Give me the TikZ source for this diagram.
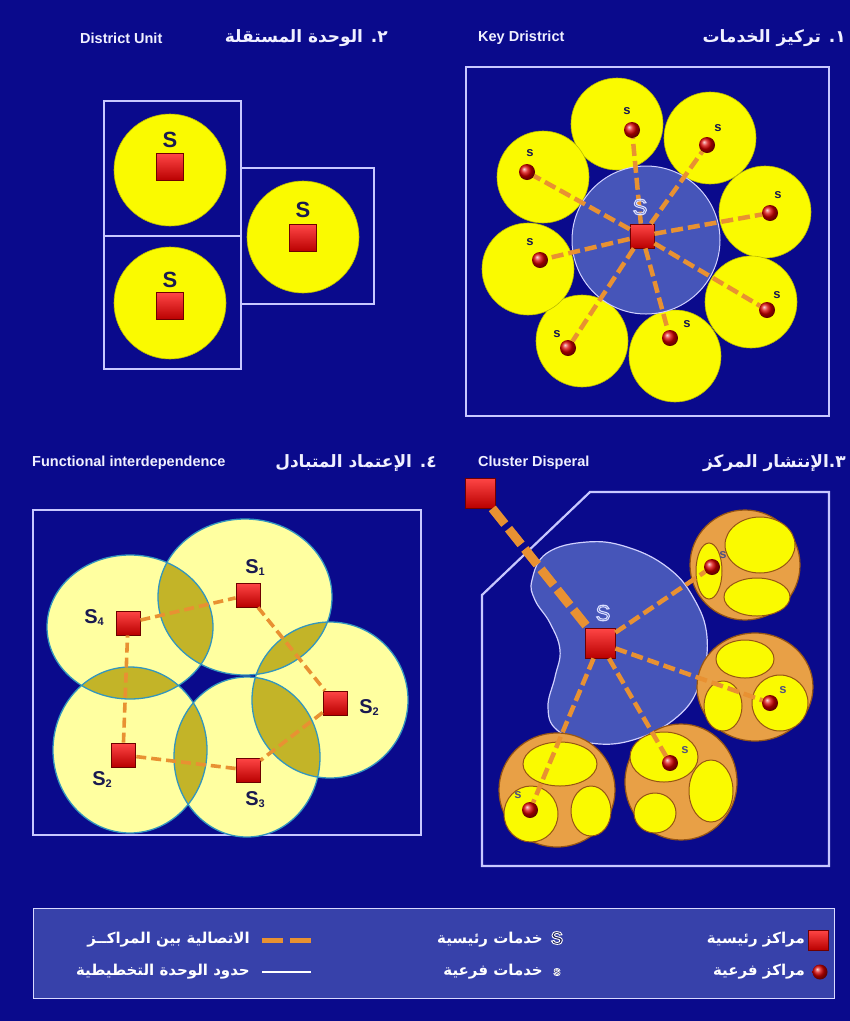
\documentclass[tikz,border=0pt]{standalone}
\usepackage{fontspec}
\setmainfont{Liberation Sans}
\newfontfamily\arabicfont[Script=Arabic]{DejaVu Sans}
\TeXXeTstate=1
\usetikzlibrary{calc}
\definecolor{bg}{RGB}{10,10,140}
\definecolor{framec}{RGB}{200,200,255}
\definecolor{yel}{RGB}{250,250,0}
\definecolor{pale}{RGB}{255,255,160}
\definecolor{olv}{RGB}{195,180,40}
\definecolor{tealc}{RGB}{50,150,190}
\definecolor{blob}{RGB}{70,85,185}
\definecolor{orng}{RGB}{232,145,50}
\definecolor{clus}{RGB}{232,160,70}
\definecolor{brn}{RGB}{150,85,20}
\definecolor{navy}{RGB}{25,25,80}
\definecolor{legbg}{RGB}{55,65,170}
\definecolor{ttlc}{RGB}{240,240,255}
\definecolor{rtop}{RGB}{255,70,70}
\definecolor{rbot}{RGB}{185,0,0}
\definecolor{rdark}{RGB}{110,0,0}
\tikzset{
  panelframe/.style={draw=framec, line width=2.2pt},
  ycirc/.style={fill=yel, draw=yel!75!black, line width=0.6pt},
  rsq/.style={rectangle, minimum size=#1, inner sep=0pt, draw=rdark, line width=0.8pt, top color=rtop, bottom color=rbot},
  rsq/.default=26pt,
  sph/.style={circle, minimum size=16pt, inner sep=0pt, ball color=red!85!black},
  link/.style={draw=orng, line width=4.5pt, dash pattern=on 12pt off 5pt},
  thinlink/.style={draw=orng, line width=3.6pt, dash pattern=on 10pt off 5pt},
  biglink/.style={draw=orng, line width=9pt, dash pattern=on 20pt off 6pt},
  titletext/.style={text=ttlc, font=\bfseries\fontsize{14.5}{16}\selectfont, inner sep=0pt},
  artitle/.style={text=ttlc, font=\arabicfont\bfseries\fontsize{17}{20}\selectfont, inner sep=0pt},
  legtext/.style={text=white, font=\arabicfont\bfseries\fontsize{15}{18}\selectfont, inner sep=0pt},
  bigS/.style={text=navy, font=\bfseries\fontsize{22}{22}\selectfont, inner sep=0pt},
  subS/.style={text=navy, font=\bfseries\fontsize{20}{20}\selectfont, inner sep=0pt},
  smalls/.style={text=navy, font=\bfseries\fontsize{13}{13}\selectfont, inner sep=0pt},
  outS/.style={inner sep=0pt},
  blobc/.style={fill=pale},
  clusc/.style={fill=clus, draw=brn, line width=1.2pt},
  cellc/.style={fill=yel, draw=brn, line width=1pt},
}
% outlined text: fill in current colour, stroke with given rgb
\newcommand\olt[3]{\special{pdf:literal direct 2 Tr #3 w #2 RG}#1\special{pdf:literal direct 0 Tr}}
\newcommand\sub[1]{\raisebox{-2pt}{\fontsize{11}{11}\selectfont #1}}
\begin{document}
\begin{tikzpicture}[x=1pt,y=-1pt]
\useasboundingbox (0,0) rectangle (850,1021);
\fill[bg] (0,0) rectangle (850,1021);

% ---------- titles ----------
\node[titletext, anchor=west] (t2en) at (80,38) {District Unit};
\node[artitle, anchor=east] (t2ar) at (388,38) {\beginR ٢. الوحدة المستقلة\endR};
\node[titletext, anchor=west] (t1en) at (478,38) {Key Dristrict};
\node[artitle, anchor=east] (t1ar) at (846,38) {\beginR ١. تركيز الخدمات\endR};
\node[titletext, anchor=west] (t4en) at (32,463) {Functional interdependence};
\node[artitle, anchor=east] (t4ar) at (437,463) {\beginR ٤. الإعتماد المتبادل\endR};
\node[titletext, anchor=west] (t3en) at (478,463) {Cluster Disperal};
\node[artitle, anchor=east] (t3ar) at (846,463) {\beginR ٣.الإنتشار المركز\endR};

% ---------- panel 1: key district ----------
\draw[panelframe] (466,67) rectangle (829,416);
\foreach \x/\y in {617/124, 710/138, 765/212, 751/302, 675/356, 582/341, 528/269, 543/177}
  \fill[ycirc] (\x,\y) circle (46);
\filldraw[fill=blob, draw=framec!85, line width=1pt] (646,240) circle (74);
\node[rsq=24pt] (k0) at (642,236) {};
\node[sph] (k1) at (632,130) {};
\node[sph] (k2) at (707,145) {};
\node[sph] (k3) at (770,213) {};
\node[sph] (k4) at (767,310) {};
\node[sph] (k5) at (670,338) {};
\node[sph] (k6) at (568,348) {};
\node[sph] (k7) at (540,260) {};
\node[sph] (k8) at (527,172) {};
\foreach \i in {1,...,8} \draw[link] (k0) -- (k\i);
\node[smalls] (ks1) at (627,111) {s};
\node[smalls] (ks2) at (718,128) {s};
\node[smalls] (ks3) at (778,195) {s};
\node[smalls] (ks4) at (777,295) {s};
\node[smalls] (ks5) at (687,324) {s};
\node[smalls] (ks6) at (557,334) {s};
\node[smalls] (ks7) at (530,242) {s};
\node[smalls] (ks8) at (530,153) {s};
\node[outS, text=blob, font=\fontsize{22}{22}\selectfont] (kS) at (640,207) {\olt{S}{0.85 0.87 1}{1.1}};

% ---------- panel 2: district unit ----------
\draw[panelframe] (104,101) rectangle (241,236);
\draw[panelframe] (104,236) rectangle (241,369);
\draw[panelframe] (241,168) rectangle (374,304);
\fill[ycirc] (170,170) circle (56);
\fill[ycirc] (170,303) circle (56);
\fill[ycirc] (303,237) circle (56);
\node[rsq=27pt] (d1) at (170,167) {};
\node[rsq=27pt] (d2) at (170,306) {};
\node[rsq=27pt] (d3) at (303,238) {};
\node[bigS] (ds1) at (170,140) {S};
\node[bigS] (ds2) at (170,280) {S};
\node[bigS] (ds3) at (303,210) {S};

% ---------- panel 4: functional interdependence ----------
\draw[panelframe] (33,510) rectangle (421,835);
\def\bA{(245,597) ellipse [x radius=87, y radius=78]}
\def\bB{(130,627) ellipse [x radius=83, y radius=72]}
\def\bC{(330,700) ellipse [x radius=78, y radius=78]}
\def\bD{(130,750) ellipse [x radius=77, y radius=83]}
\def\bE{(247,757) ellipse [x radius=73, y radius=80]}
\fill[blobc] \bA; \fill[blobc] \bB; \fill[blobc] \bC; \fill[blobc] \bD; \fill[blobc] \bE;
\begin{scope}\clip \bA; \fill[olv] \bB; \end{scope}
\begin{scope}\clip \bA; \fill[olv] \bC; \end{scope}
\begin{scope}\clip \bB; \fill[olv] \bD; \end{scope}
\begin{scope}\clip \bD; \fill[olv] \bE; \end{scope}
\begin{scope}\clip \bE; \fill[olv] \bC; \end{scope}
\draw[tealc, line width=1.3pt] \bA; \draw[tealc, line width=1.3pt] \bB; \draw[tealc, line width=1.3pt] \bC;
\draw[tealc, line width=1.3pt] \bD; \draw[tealc, line width=1.3pt] \bE;
\node[rsq=24pt] (f1) at (248,595) {};
\node[rsq=24pt] (f4) at (128,623) {};
\node[rsq=24pt] (f2) at (335,703) {};
\node[rsq=24pt] (f5) at (123,755) {};
\node[rsq=24pt] (f3) at (248,770) {};
\draw[thinlink] (f4) -- (f1);
\draw[thinlink] (f1) -- (f2);
\draw[thinlink] (f2) -- (f3);
\draw[thinlink] (f3) -- (f5);
\draw[thinlink] (f5) -- (f4);
\node[subS] (fs1) at (255,568) {S\sub{1}};
\node[subS] (fs4) at (94,618) {S\sub{4}};
\node[subS] (fs2) at (369,708) {S\sub{2}};
\node[subS] (fs5) at (102,780) {S\sub{2}};
\node[subS] (fs3) at (255,800) {S\sub{3}};

% ---------- panel 3: cluster dispersal ----------
\draw[panelframe] (590,492) -- (829,492) -- (829,866) -- (482,866) -- (482,595) -- cycle;
\filldraw[fill=blob, draw=framec!85, line width=1.2pt] plot[smooth cycle, tension=0.7] coordinates {
  (532,580) (547,553) (587,542) (627,547) (667,567) (693,597) (707,637) (700,683)
  (677,717) (633,740) (590,743) (557,730) (548,707) (555,677) (560,650) (550,623) (535,600)};
% clusters
\fill[clusc] (745,565) ellipse [x radius=55, y radius=55];
\fill[cellc] (760,545) ellipse [x radius=35, y radius=28];
\fill[cellc] (757,597) ellipse [x radius=33, y radius=19];
\fill[cellc] (709,571) ellipse [x radius=13, y radius=28];
\fill[clusc] (755,687) ellipse [x radius=58, y radius=54];
\fill[cellc] (745,659) ellipse [x radius=29, y radius=19];
\fill[cellc] (780,703) ellipse [x radius=28, y radius=28];
\fill[cellc] (723,706) ellipse [x radius=19, y radius=25];
\fill[clusc] (681,782) ellipse [x radius=56, y radius=58];
\fill[cellc] (664,757) ellipse [x radius=34, y radius=25];
\fill[cellc] (711,791) ellipse [x radius=22, y radius=31];
\fill[cellc] (655,813) ellipse [x radius=21, y radius=20];
\fill[clusc] (557,790) ellipse [x radius=58, y radius=57];
\fill[cellc] (560,764) ellipse [x radius=37, y radius=22];
\fill[cellc] (531,814) ellipse [x radius=27, y radius=28];
\fill[cellc] (591,811) ellipse [x radius=20, y radius=25];
\node[rsq=30pt] (c0) at (600,643) {};
\node[rsq=30pt] (ext) at (480,493) {};
\node[sph] (c1) at (712,567) {};
\node[sph] (c2) at (770,703) {};
\node[sph] (c3) at (670,763) {};
\node[sph] (c4) at (530,810) {};
\draw[biglink] (ext) -- (c0);
\foreach \i in {1,...,4} \draw[link] (c0) -- (c\i);
\node[smalls, text=navy!75] (cs1) at (723,555) {s};
\node[smalls, text=navy!75] (cs2) at (783,690) {s};
\node[smalls, text=navy!75] (cs3) at (685,750) {s};
\node[smalls, text=navy!75] (cs4) at (518,795) {s};
\node[outS, text=blob, font=\fontsize{22}{22}\selectfont] (cS) at (603,613) {\olt{S}{0.85 0.87 1}{1.1}};

% ---------- legend ----------
\filldraw[fill=legbg, draw=framec!70, line width=1pt] (33,908) rectangle (834,998);
\node[rsq=20pt] (lg1) at (818,940) {};
\node[legtext, anchor=east] (lt1) at (805,940) {\beginR مراكز رئيسية\endR};
\node[sph, minimum size=15pt] (lg2) at (820,972) {};
\node[legtext, anchor=east] (lt2) at (805,972) {\beginR مراكز فرعية\endR};
\node[outS, text=navy, font=\bfseries\fontsize{18}{18}\selectfont] (lS1) at (557,938) {\olt{S}{1 1 1}{0.9}};
\node[legtext, anchor=east] (lt3) at (543,940) {\beginR خدمات رئيسية\endR};
\node[outS, text=navy, font=\bfseries\fontsize{13}{13}\selectfont] (lS2) at (557,972) {\olt{s}{1 1 1}{0.7}};
\node[legtext, anchor=east] (lt4) at (543,972) {\beginR خدمات فرعية\endR};
\coordinate (ld1) at (262,940);
\coordinate (ld2) at (311,940);
\draw[orng, line width=5pt, dash pattern=on 21pt off 7pt] (ld1) -- (ld2);
\node[legtext, anchor=east] (lt5) at (250,940) {\beginR الاتصالية بين المراكــز\endR};
\coordinate (lw1) at (262,972);
\coordinate (lw2) at (311,972);
\draw[white, line width=2pt] (lw1) -- (lw2);
\node[legtext, anchor=east] (lt6) at (250,972) {\beginR حدود الوحدة التخطيطية\endR};
\end{tikzpicture}
\end{document}
